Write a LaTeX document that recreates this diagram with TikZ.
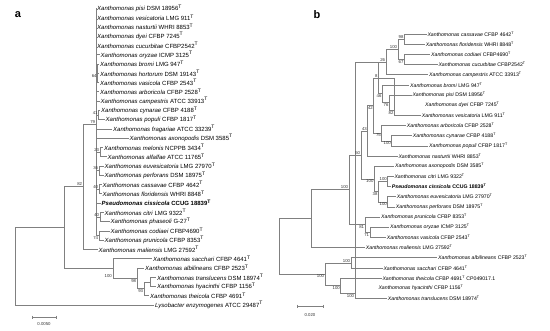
\documentclass[tikz,border=0pt]{standalone}
\usepackage{fontspec}
\setmainfont{Liberation Sans}
\usetikzlibrary{calc}
\newcommand\Xsp[2]{\textit{Xanthomonas #1} #2\textsuperscript{T}}
\newcommand\LeafA[4]{\coordinate (#1) at ({#2-0.8},#3); \node[la] (#1l) at (#2,#3) {#4};}
\newcommand\LeafB[4]{\coordinate (#1) at ({#2-0.8},#3); \node[lb] (#1l) at (#2,#3) {#4};}
\newcommand\Up[2]{\node[bs,anchor=south east] at ($(#1)+(-0.7,-0.5)$) {#2};}
\newcommand\Dn[2]{\node[bs,anchor=north east] at ($(#1)+(-0.7,0.6)$) {#2};}
\begin{document}
\begin{tikzpicture}[x=1pt,y=-1pt,
  br/.style={draw=black!50, line width=0.5pt},
  la/.style={anchor=west, inner sep=0pt, font=\fontsize{6}{6}\selectfont},
  lb/.style={anchor=west, inner sep=0pt, font=\fontsize{5.2}{5.2}\selectfont},
  bs/.style={inner sep=0pt, font=\fontsize{4.3}{4.3}\selectfont, text=black!80},
  pl/.style={font=\fontsize{11}{11}\selectfont\bfseries, inner sep=0pt}]
\useasboundingbox (0,0) rectangle (550,330);
\node[pl] (pa) at (18,15) {a};
\node[pl] (pb) at (317,15) {b};
% ---------------- panel a leaves
\LeafA{a1}{97}{8.3}{\Xsp{pisi}{DSM 18956}}
\LeafA{a2}{97}{17.6}{\Xsp{vesicatoria}{LMG 911}}
\LeafA{a3}{97}{26.8}{\Xsp{nasturtii}{WHRI 8853}}
\LeafA{a4}{97}{36.1}{\Xsp{dyei}{CFBP 7245}}
\LeafA{a5}{97}{45.4}{\Xsp{cucurbitae}{CFBP2542}}
\LeafA{a6}{100.5}{54.7}{\Xsp{oryzae}{ICMP 3125}}
\LeafA{a7}{100}{63.9}{\Xsp{bromi}{LMG 947}}
\LeafA{a8}{100}{73.2}{\Xsp{hortorum}{DSM 19143}}
\LeafA{a9}{100}{82.5}{\Xsp{vasicola}{CFBP 2543}}
\LeafA{a10}{100}{91.7}{\Xsp{arboricola}{CFBP 2528}}
\LeafA{a11}{100.5}{101.0}{\Xsp{campestris}{ATCC 33913}}
\LeafA{a12}{101}{110.3}{\Xsp{cynarae}{CFBP 4188}}
\LeafA{a13}{105.5}{119.5}{\Xsp{populi}{CFBP 1817}}
\LeafA{a14}{113}{128.8}{\Xsp{fragariae}{ATCC 33239}}
\LeafA{a15}{129.5}{138.1}{\Xsp{axonopodis}{DSM 3585}}
\LeafA{a16}{104}{147.4}{\Xsp{melonis}{NCPPB 3434}}
\LeafA{a17}{107.5}{156.6}{\Xsp{alfalfae}{ATCC 11765}}
\LeafA{a18}{104.5}{165.9}{\Xsp{euvesicatoria}{LMG 27970}}
\LeafA{a19}{104.5}{175.2}{\Xsp{perforans}{DSM 18975}}
\LeafA{a20}{102.5}{184.4}{\Xsp{cassavae}{CFBP 4642}}
\LeafA{a21}{102.5}{193.7}{\Xsp{floridensis}{WHRI 8848}}
\LeafA{a22}{101.5}{203.0}{\textbf{\textit{Pseudomonas cissicola} CCUG 18839\textsuperscript{T}}}
\LeafA{a23}{104.5}{212.2}{\Xsp{citri}{LMG 9322}}
\LeafA{a24}{110.5}{221.5}{\Xsp{phaseoli}{G-27}}
\LeafA{a25}{110.5}{230.8}{\Xsp{codiaei}{CFBP4690}}
\LeafA{a26}{104.5}{240.1}{\Xsp{prunicola}{CFBP 8353}}
\LeafA{a27}{98.5}{249.3}{\Xsp{maliensis}{LMG 27592}}
\LeafA{a28}{153}{258.6}{\Xsp{sacchari}{CFBP 4641}}
\LeafA{a29}{145}{267.9}{\Xsp{albilineans}{CFBP 2523}}
\LeafA{a30}{157}{277.1}{\Xsp{translucens}{DSM 18974}}
\LeafA{a31}{157}{286.4}{\Xsp{hyacinthi}{CFBP 1156}}
\LeafA{a32}{150}{295.7}{\Xsp{theicola}{CFBP 4691}}
\LeafA{a33}{155}{305.0}{\textit{Lysobacter enzymogenes} ATCC 29487\textsuperscript{T}}
% ---------------- panel a internal nodes
\coordinate (aR) at (15,305);
\coordinate (aA) at (64,227.6);
\coordinate (aB) at (83,186.7);
\coordinate (a79) at (96,124.2);
\coordinate (a64) at (97.5,73.2);
\coordinate (a41) at (98.5,114.9);
\coordinate (a2x) at (100,152.0);
\coordinate (a36) at (99,170.55);
\coordinate (a40a) at (99,189.05);
\coordinate (a40b) at (100,216.85);
\coordinate (a74) at (99,235.45);
\coordinate (a100) at (113,268.5);
\coordinate (a98) at (137,278.3);
\coordinate (a93) at (144,288.7);
\coordinate (aTH) at (150,281.8);
\draw[br] (aR |- aA) -- (aR) (aR |- aA) -- (aA) (aR) -- (a33);
\draw[br] (aA) |- (aB) (aA) |- (a100);
\draw[br] (aB) |- (a79) (aB) |- (a27);
\foreach \c in {a1,a2,a3,a4,a5,a6,a10,a11,a14,a15,a22} {\draw[br] (a79) |- (\c);}
\foreach \c in {a64,a41,a2x,a36,a40a,a40b,a74} {\draw[br] (a79) |- (\c);}
\foreach \c in {a7,a8,a9} {\draw[br] (a64) |- (\c);}
\foreach \c in {a12,a13} {\draw[br] (a41) |- (\c);}
\foreach \c in {a16,a17} {\draw[br] (a2x) |- (\c);}
\foreach \c in {a18,a19} {\draw[br] (a36) |- (\c);}
\foreach \c in {a20,a21} {\draw[br] (a40a) |- (\c);}
\foreach \c in {a23,a24} {\draw[br] (a40b) |- (\c);}
\foreach \c in {a25,a26} {\draw[br] (a74) |- (\c);}
\draw[br] (a100) |- (a28) (a100) |- (a98);
\draw[br] (a98) |- (a29) (a98) |- (a93);
\draw[br] (a93) |- (aTH) (a93) |- (a32);
\draw[br] (aTH) |- (a30) (aTH) |- (a31);
% panel a support values
\Dn{a64}{64} \Up{a41}{41} \Up{a79}{79} \Up{a2x}{23} \Up{a36}{36}
\Up{a40a}{40} \Up{a40b}{40} \Dn{a74}{74} \Up{aB}{82}
\Dn{a98}{98} \Dn{a93}{93}
\node[bs,anchor=east] at (112,276) {100};
% scale a
\coordinate (sa1) at (32,317); \coordinate (sa2) at (56,317);
\draw[br] (sa1) -- (sa2) ($(sa1)+(0,-1.5)$) -- ($(sa1)+(0,1.5)$) ($(sa2)+(0,-1.5)$) -- ($(sa2)+(0,1.5)$);
\node[bs] (sal) at (44,324) {0.0050};
% ---------------- panel b leaves
\LeafB{b1}{427.3}{34.0}{\Xsp{cassavae}{CFBP 4642}}
\LeafB{b2}{425.7}{44.17}{\Xsp{floridensis}{WHRI 8848}}
\LeafB{b3}{431}{54.33}{\Xsp{codiaei}{CFBP4690}}
\LeafB{b4}{438.3}{64.5}{\Xsp{cucurbitae}{CFBP2542}}
\LeafB{b5}{429}{74.67}{\Xsp{campestris}{ATCC 33913}}
\LeafB{b6}{410}{84.83}{\Xsp{bromi}{LMG 947}}
\LeafB{b7}{412.3}{95.0}{\Xsp{pisi}{DSM 18956}}
\LeafB{b8}{425}{105.17}{\Xsp{dyei}{CFBP 7245}}
\LeafB{b9}{421.7}{115.33}{\Xsp{vesicatoria}{LMG 911}}
\LeafB{b10}{406.7}{125.5}{\Xsp{arboricola}{CFBP 2528}}
\LeafB{b11}{412.7}{135.67}{\Xsp{cynarae}{CFBP 4188}}
\LeafB{b12}{429}{145.83}{\Xsp{populi}{CFBP 1817}}
\LeafB{b13}{398.3}{156.0}{\Xsp{nasturtii}{WHRI 8853}}
\LeafB{b14}{395}{166.17}{\Xsp{axonopodis}{DSM 3585}}
\LeafB{b15}{394.3}{176.33}{\Xsp{citri}{LMG 9322}}
\LeafB{b16}{391.7}{186.5}{\textbf{\textit{Pseudomonas cissicola} CCUG 18839\textsuperscript{T}}}
\LeafB{b17}{396.7}{196.67}{\Xsp{euvesicatoria}{LMG 27970}}
\LeafB{b18}{395.7}{206.83}{\Xsp{perforans}{DSM 18975}}
\LeafB{b19}{381}{217.0}{\Xsp{prunicola}{CFBP 8353}}
\LeafB{b20}{390}{227.17}{\Xsp{oryzae}{ICMP 3125}}
\LeafB{b21}{386.7}{237.33}{\Xsp{vasicola}{CFBP 2543}}
\LeafB{b22}{365.7}{247.5}{\Xsp{maliensis}{LMG 27592}}
\LeafB{b23}{438}{257.67}{\Xsp{albilineans}{CFBP 2523}}
\LeafB{b24}{383.3}{267.83}{\Xsp{sacchari}{CFBP 4641}}
\LeafB{b25}{382.3}{278.0}{\Xsp{theicola}{CFBP 4691} CP049017.1}
\LeafB{b26}{378.3}{288.17}{\Xsp{hyacinthi}{CFBP 1156}}
\LeafB{b27}{387.7}{298.33}{\Xsp{translucens}{DSM 18974}}
% panel b internal nodes
\coordinate (b98) at (404.3,39.08);
\coordinate (b67) at (404.3,59.42);
\coordinate (b100a) at (398,49.25);
\coordinate (b26) at (386,61.96);
\coordinate (bC) at (394.3,110.25);
\coordinate (bB) at (389.3,102.63);
\coordinate (bA) at (382.3,93.73);
\coordinate (b8) at (378.3,77.85);
\coordinate (b100cp) at (391.7,140.75);
\coordinate (b75) at (381.7,133.13);
\coordinate (b42) at (373.7,105.49);
\coordinate (b43) at (367.7,130.75);
\coordinate (b100ci) at (387.7,181.42);
\coordinate (b100ep) at (387.7,201.75);
\coordinate (b38) at (378.3,191.58);
\coordinate (b100ax) at (374.3,178.88);
\coordinate (b50) at (361,154.81);
\coordinate (b71) at (370,232.25);
\coordinate (b81) at (365,224.63);
\coordinate (b100m) at (349,189.72);
\coordinate (bM) at (311.7,218.61);
\coordinate (b100as) at (351,262.75);
\coordinate (b100ht) at (355,293.25);
\coordinate (b100t) at (340.7,285.63);
\coordinate (bO) at (325,274.19);
\coordinate (bR) at (279,246.4);
\draw[br] (b98) |- (b1) (b98) |- (b2);
\draw[br] (b67) |- (b3) (b67) |- (b4);
\draw[br] (b100a) |- (b98) (b100a) |- (b67);
\draw[br] (b26) |- (b100a) (b26) |- (b5);
\draw[br] (bC) |- (b8) (bC) |- (b9);
\draw[br] (bB) |- (b7) (bB) |- (bC);
\draw[br] (bA) |- (b6) (bA) |- (bB);
\draw[br] (b8) |- (b26) (b8) |- (bA);
\draw[br] (b100cp) |- (b11) (b100cp) |- (b12);
\draw[br] (b75) |- (b10) (b75) |- (b100cp);
\draw[br] (b42) |- (b8) (b42) |- (b75);
\draw[br] (b43) |- (b42) (b43) |- (b13);
\draw[br] (b100ci) |- (b15) (b100ci) |- (b16);
\draw[br] (b100ep) |- (b17) (b100ep) |- (b18);
\draw[br] (b38) |- (b100ci) (b38) |- (b100ep);
\draw[br] (b100ax) |- (b14) (b100ax) |- (b38);
\draw[br] (b50) |- (b43) (b50) |- (b100ax);
\draw[br] (b71) |- (b20) (b71) |- (b21);
\draw[br] (b81) |- (b19) (b81) |- (b71);
\draw[br] (b100m) |- (b50) (b100m) |- (b81);
\draw[br] (bM) |- (b100m) (bM) |- (b22);
\draw[br] (b100as) |- (b23) (b100as) |- (b24);
\draw[br] (b100ht) |- (b26) (b100ht) |- (b27);
\draw[br] (b100t) |- (b25) (b100t) |- (b100ht);
\draw[br] (bO) |- (b100as) (bO) |- (b100t);
\draw[br] (bR) |- (bM) (bR) |- (bO);
% panel b support values
\Up{b98}{98} \Dn{b67}{67} \Up{b100a}{100} \Up{b26}{26} \Up{b8}{8}
\Dn{bA}{46} \Dn{bB}{76} \Dn{bC}{82} \Dn{b42}{42} \Dn{b75}{75} \Dn{b100cp}{100}
\Up{b43}{43} \Up{b50}{50} \Up{b100ci}{100} \Dn{b100ep}{100} \Dn{b38}{38}
\Dn{b100ax}{100} \Up{b100m}{100} \Dn{b81}{81} \Dn{b71}{71}
\Up{b100as}{100} \Dn{bO}{100} \Dn{b100t}{100} \Dn{b100ht}{100}
% scale b
\coordinate (sb1) at (297,306); \coordinate (sb2) at (323,306);
\draw[br] (sb1) -- (sb2) ($(sb1)+(0,-1.5)$) -- ($(sb1)+(0,1.5)$) ($(sb2)+(0,-1.5)$) -- ($(sb2)+(0,1.5)$);
\node[bs] (sbl) at (310,315) {0.020};
\end{tikzpicture}
\end{document}
